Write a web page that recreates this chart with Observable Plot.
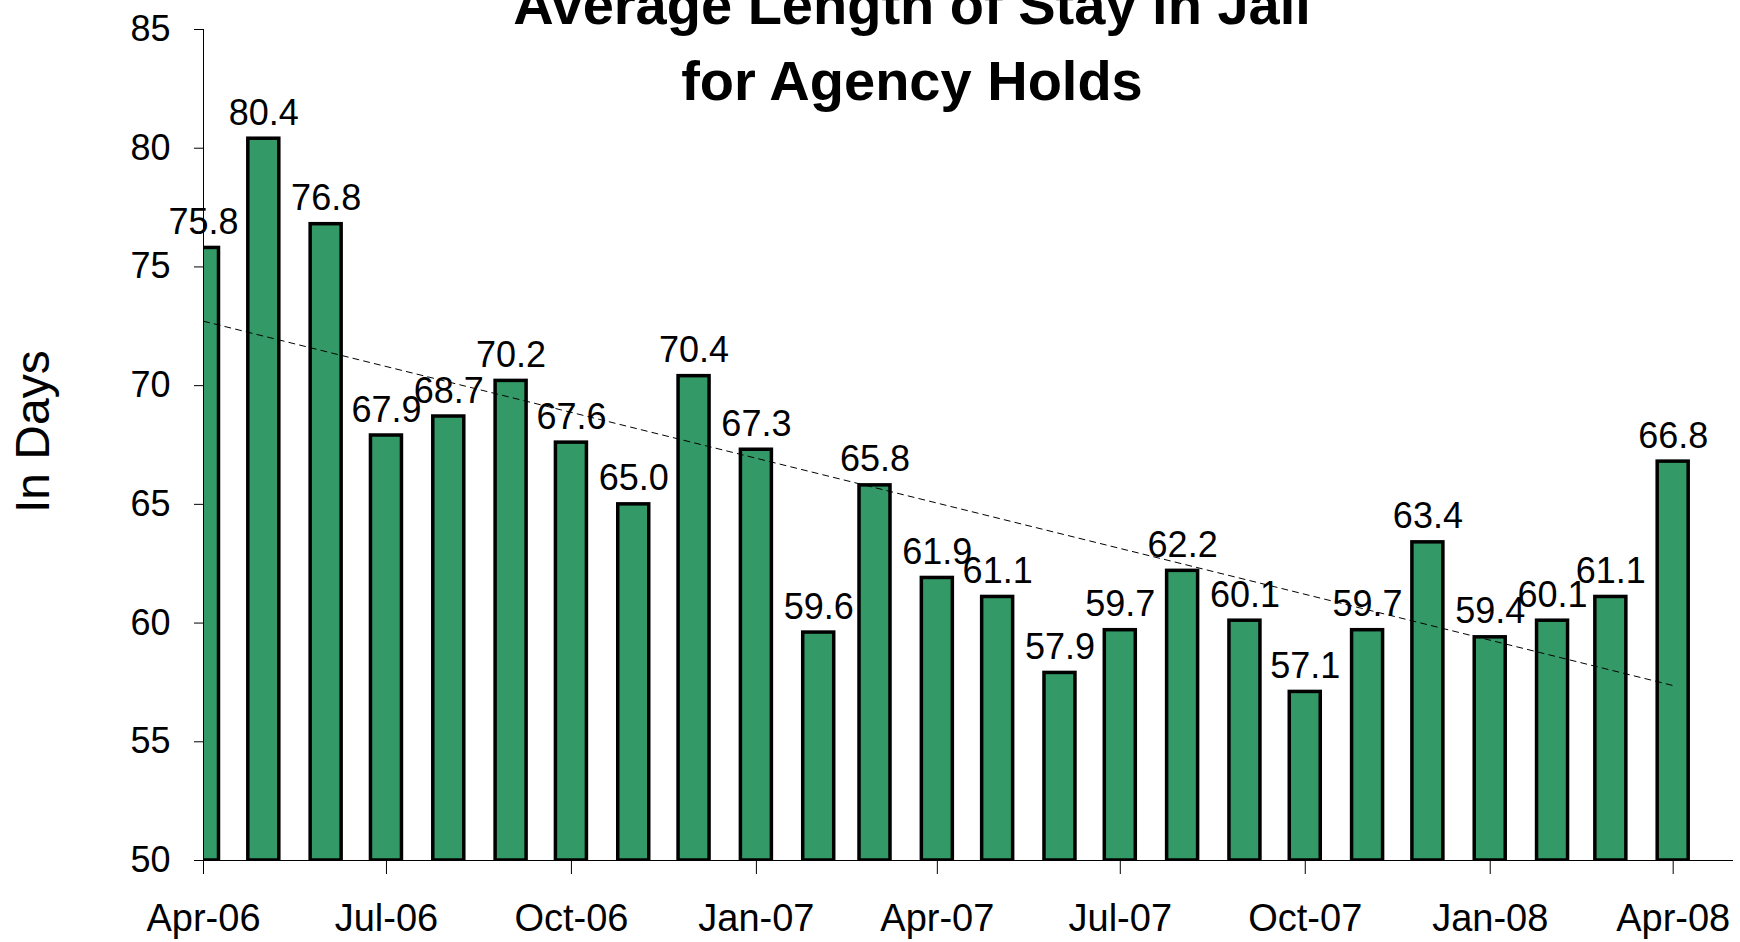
<!DOCTYPE html>
<html>
<head>
<meta charset="utf-8">
<script src="https://cdn.jsdelivr.net/npm/d3@7"></script>
<script src="https://cdn.jsdelivr.net/npm/@observablehq/plot@0.6"></script>
<style>
html, body { margin: 0; padding: 0; background: #fff; overflow: hidden; }
#wrap { position: relative; width: 1740px; height: 942px; overflow: hidden; font-family: "Liberation Sans", Arial, sans-serif; }
#title { position: absolute; left: 42px; top: -33px; width: 1740px; text-align: center; font-weight: bold; font-size: 56px; line-height: 76px; color: #000; z-index: 2; pointer-events: none; }
</style>
</head>
<body>
<div id="wrap"><div id="title"></div></div>
<script>
const titleLines = ["Average Length of Stay in Jail", "for Agency Holds"];
const yAxisLabel = "In Days";
const months = ["2006-04","2006-05","2006-06","2006-07","2006-08","2006-09","2006-10","2006-11","2006-12",
  "2007-01","2007-02","2007-03","2007-04","2007-05","2007-06","2007-07","2007-08","2007-09","2007-10",
  "2007-11","2007-12","2008-01","2008-02","2008-03","2008-04"];
const values = [75.8, 80.4, 76.8, 67.9, 68.7, 70.2, 67.6, 65.0, 70.4, 67.3, 59.6, 65.8, 61.9, 61.1, 57.9,
  59.7, 62.2, 60.1, 57.1, 59.7, 63.4, 59.4, 60.1, 61.1, 66.8];
const xTickMonths = ["2006-04","2006-07","2006-10","2007-01","2007-04","2007-07","2007-10","2008-01","2008-04"];
const xDomainMonths = ["2006-04","2008-05"];
const yTicks = [50, 55, 60, 65, 70, 75, 80, 85];
const yDomain = [50, 85];

const parse = d3.utcParse("%Y-%m");
const data = months.map((m, i) => ({date: parse(m), value: values[i]}));
const xDomain = xDomainMonths.map(parse);
const xTicks = xTickMonths.map(parse);

document.getElementById("title").innerHTML = titleLines.join("<br>");

const font = "Liberation Sans, Arial, sans-serif";

const chart = Plot.plot({
  width: 1740,
  height: 942,
  marginLeft: 203,
  marginRight: 7,
  marginTop: 29,
  marginBottom: 82,
  style: {fontFamily: font, color: "#000", background: "transparent"},
  x: {type: "utc", domain: xDomain},
  y: {domain: yDomain},
  marks: [
    Plot.rectY(data, {
      x1: "date", x2: "date", y1: yDomain[0], y2: "value",
      insetLeft: -15.5, insetRight: -15.5,
      fill: "#339966", stroke: "#000", strokeWidth: 3.5, clip: true
    }),
    Plot.linearRegressionY(data, {
      x: "date", y: "value", ci: 0,
      stroke: "#000", strokeWidth: 1, strokeDasharray: "6,5"
    }),
    Plot.text(data, {
      x: "date", y: "value", text: d => d.value.toFixed(1),
      lineAnchor: "bottom", dy: -14, fontSize: 36, fill: "#000"
    }),
    Plot.ruleY([yDomain[0]], {stroke: "#000", strokeWidth: 1}),
    Plot.ruleX([xDomain[0]], {stroke: "#000", strokeWidth: 1}),
    Plot.axisY({ticks: yTicks, tickSize: 9, tickPadding: 24, fontSize: 36, label: null}),
    Plot.axisX({ticks: xTicks, tickFormat: d3.utcFormat("%b-%y"), tickSize: 14, tickPadding: 30, fontSize: 38, label: null}),
    Plot.text([yAxisLabel], {
      text: d => d, frameAnchor: "left", rotate: -90, dx: -170, dy: 68,
      fontSize: 48, fill: "#000"
    })
  ]
});

document.getElementById("wrap").appendChild(chart);
</script>
</body>
</html>
